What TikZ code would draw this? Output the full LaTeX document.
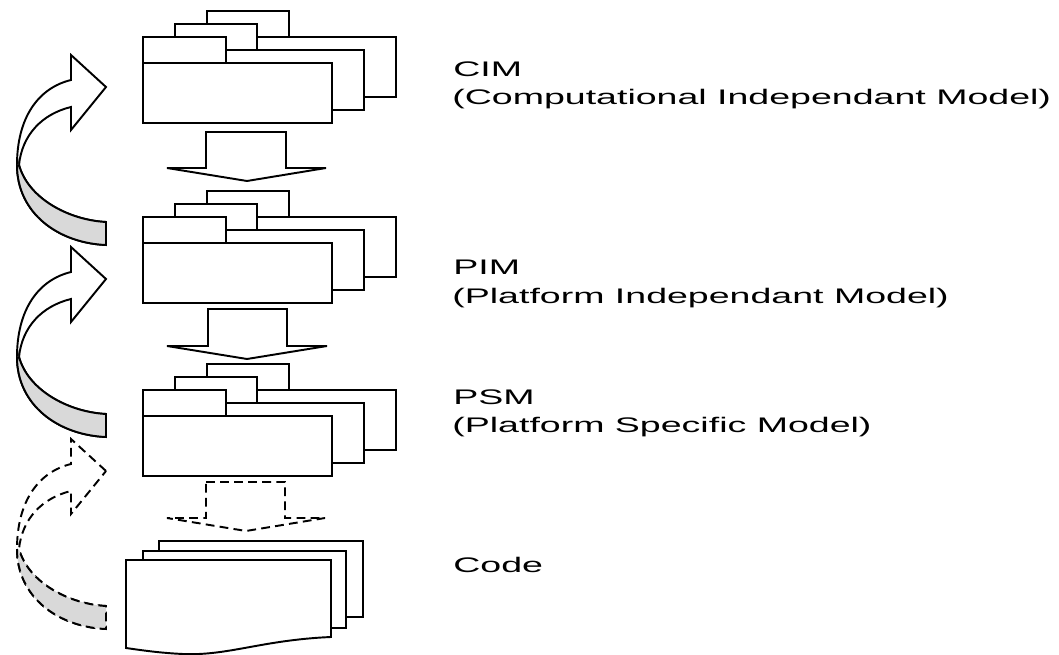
\documentclass[tikz,border=0pt]{standalone}
\usepackage{fontspec}
\setmainfont{Liberation Sans}
\usepackage{tikz}
\usetikzlibrary{positioning,calc}

\newcommand{\stretched}[1]{\scalebox{1.78}[1]{#1}}

\tikzset{
  pkg/.style={draw=black,fill=white,line width=1.1pt},
  blockarr/.style={draw=black,fill=white,line width=1.1pt},
  twistarr/.style={draw=black,fill=white,line width=1.1pt},
  twistback/.style={fill=black!15},
  dashline/.style={dash pattern=on 5pt off 3pt},
  lbl/.style={font=\fontsize{12}{14}\selectfont,anchor=base west,inner sep=0pt}
}

\begin{document}
\begin{tikzpicture}[x=0.02cm,y=-0.02cm]
\useasboundingbox (0,0) rectangle (1059,655);
\begin{scope}[shift={(0,0)}]
\draw[pkg] (207,11) rectangle (289,37);
\draw[pkg] (207,37) rectangle (396,97);
\draw[pkg] (175,24) rectangle (257,50);
\draw[pkg] (175,50) rectangle (364,110);
\draw[pkg] (143,37) rectangle (226,63);
\draw[pkg] (143,63) rectangle (332,123);
\end{scope}
\begin{scope}[shift={(0,180)}]
\draw[pkg] (207,11) rectangle (289,37);
\draw[pkg] (207,37) rectangle (396,97);
\draw[pkg] (175,24) rectangle (257,50);
\draw[pkg] (175,50) rectangle (364,110);
\draw[pkg] (143,37) rectangle (226,63);
\draw[pkg] (143,63) rectangle (332,123);
\end{scope}
\begin{scope}[shift={(0,353)}]
\draw[pkg] (207,11) rectangle (289,37);
\draw[pkg] (207,37) rectangle (396,97);
\draw[pkg] (175,24) rectangle (257,50);
\draw[pkg] (175,50) rectangle (364,110);
\draw[pkg] (143,37) rectangle (226,63);
\draw[pkg] (143,63) rectangle (332,123);
\end{scope}
\draw[pkg] (159,541) rectangle (363,617);
\draw[pkg] (143,551) rectangle (346,628);
\draw[pkg] (126,560) -- (331,560) -- (331,637) .. controls (262,640) and (228,656) .. (183,654) .. controls (160,653) and (140,650) .. (126,648) -- cycle;
\draw[blockarr] (206,132) -- (286,132) -- (286,168) -- (326,168) -- (247,181) -- (167,168) -- (206,168) -- cycle;
\draw[blockarr] (208,309) -- (287,309) -- (287,346) -- (327,346) -- (247,359) -- (167,346) -- (208,346) -- cycle;
\draw[blockarr,dashline] (206,482) -- (285,482) -- (285,518) -- (325,518) -- (246,531) -- (167,518) -- (206,518) -- cycle;
\begin{scope}[shift={(0,0)}]
\draw[twistarr] (106,87) -- (71,55) -- (71,80) .. controls (38,88) and (17,118) .. (17,165) .. controls (17,213) and (58,243) .. (106,245) -- (106,222) .. controls (68,220) and (28,198) .. (19,165) .. controls (22,135) and (42,114) .. (71,107) -- (71,130) -- cycle;
\fill[twistback] (17,165) .. controls (17,213) and (58,243) .. (106,245) -- (106,222) .. controls (68,220) and (28,198) .. (19,165) -- cycle;
\draw[line width=1.1pt] (17,165) .. controls (17,213) and (58,243) .. (106,245) -- (106,222) .. controls (68,220) and (28,198) .. (19,165);
\end{scope}
\begin{scope}[shift={(0,192)}]
\draw[twistarr] (106,87) -- (71,55) -- (71,80) .. controls (38,88) and (17,118) .. (17,165) .. controls (17,213) and (58,243) .. (106,245) -- (106,222) .. controls (68,220) and (28,198) .. (19,165) .. controls (22,135) and (42,114) .. (71,107) -- (71,130) -- cycle;
\fill[twistback] (17,165) .. controls (17,213) and (58,243) .. (106,245) -- (106,222) .. controls (68,220) and (28,198) .. (19,165) -- cycle;
\draw[line width=1.1pt] (17,165) .. controls (17,213) and (58,243) .. (106,245) -- (106,222) .. controls (68,220) and (28,198) .. (19,165);
\end{scope}
\begin{scope}[shift={(0,384)}]
\draw[twistarr,dashline] (106,87) -- (71,55) -- (71,80) .. controls (38,88) and (17,118) .. (17,165) .. controls (17,213) and (58,243) .. (106,245) -- (106,222) .. controls (68,220) and (28,198) .. (19,165) .. controls (22,135) and (42,114) .. (71,107) -- (71,130) -- cycle;
\fill[twistback] (17,165) .. controls (17,213) and (58,243) .. (106,245) -- (106,222) .. controls (68,220) and (28,198) .. (19,165) -- cycle;
\draw[line width=1.1pt,dashline] (17,165) .. controls (17,213) and (58,243) .. (106,245) -- (106,222) .. controls (68,220) and (28,198) .. (19,165);
\end{scope}
\node[lbl] (cimt) at (453,77) {\stretched{CIM}};
\node[lbl] (cimd) at (452,105) {\stretched{(Computational Independant Model)}};
\node[lbl] (pimt) at (453,275) {\stretched{PIM}};
\node[lbl] (pimd) at (452,304) {\stretched{(Platform Independant Model)}};
\node[lbl] (psmt) at (453,404) {\stretched{PSM}};
\node[lbl] (psmd) at (452,433) {\stretched{(Platform Specific Model)}};
\node[lbl] (codet) at (453,572) {\stretched{Code}};
\end{tikzpicture}
\end{document}
